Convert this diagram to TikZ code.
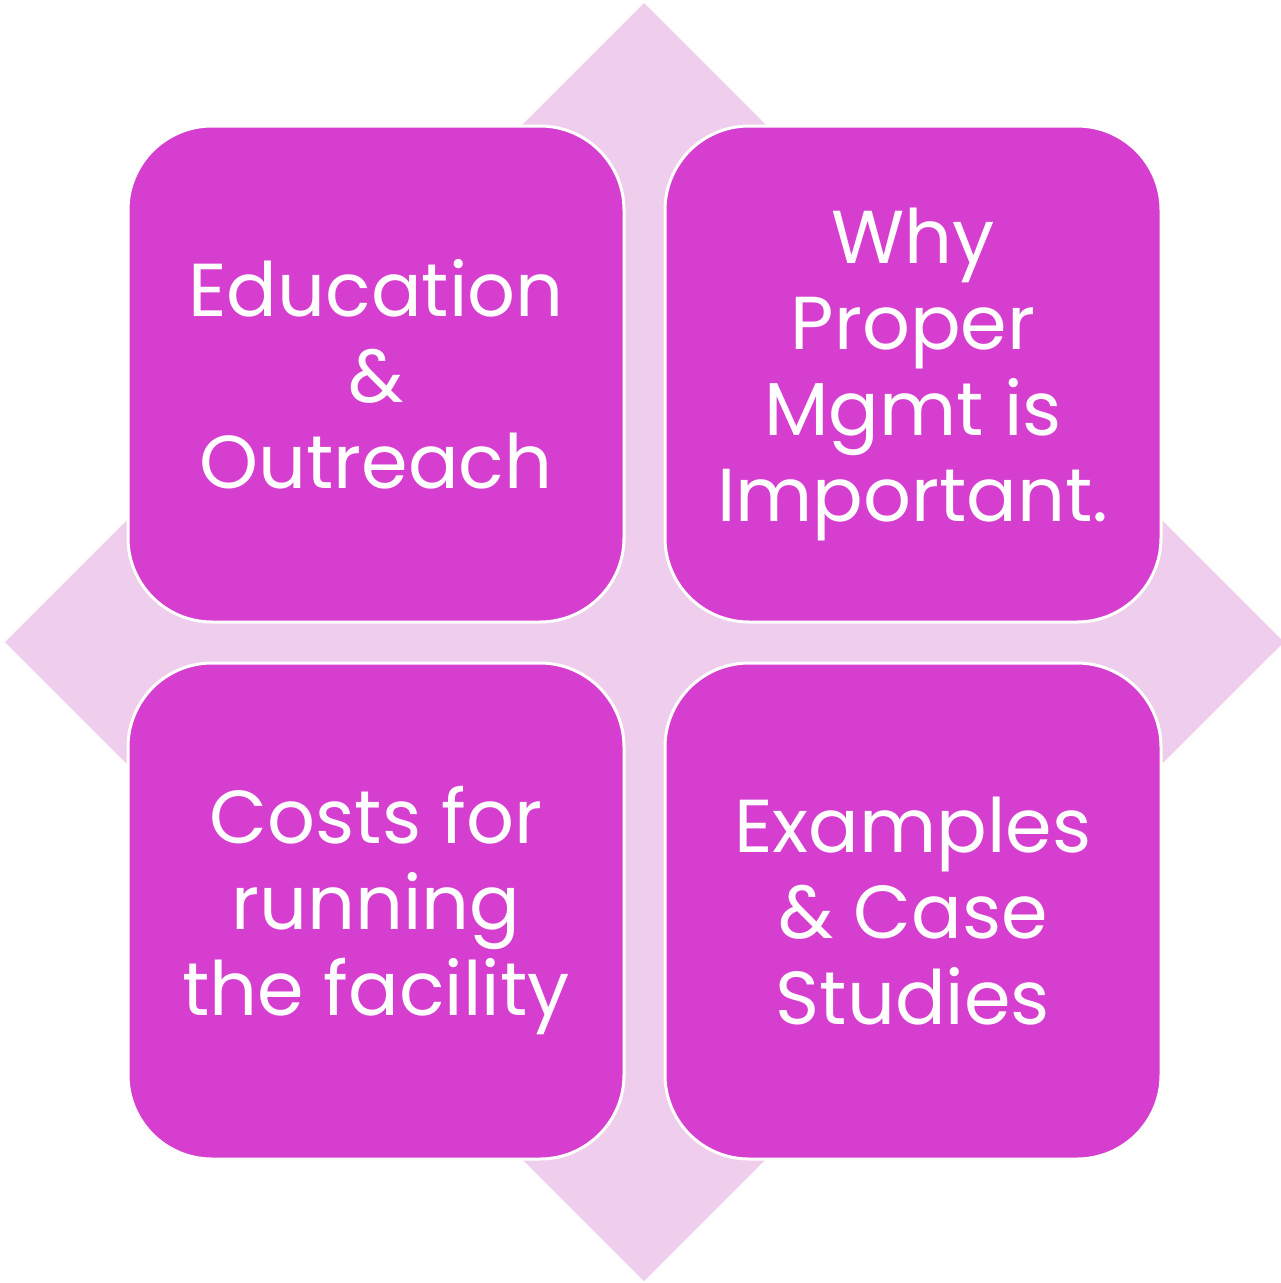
\documentclass[tikz,border=0pt]{standalone}
\usepackage{fontspec}
\setmainfont{Poppins}
\definecolor{boxfill}{HTML}{D53ECF}
\definecolor{diafill}{HTML}{EECEEC}
\begin{document}
\begin{tikzpicture}[x=1pt,y=-1pt,
  quad/.style={draw=white, line width=3pt, fill=boxfill, rounded corners=84pt,
    minimum width=496pt, minimum height=496pt, inner sep=0pt,
    text=white, align=center, font=\fontsize{75}{86}\selectfont}]
\useasboundingbox (0,0) rectangle (1281,1283);
\fill[diafill] (644,3) -- (1284,642) -- (644,1281) -- (5,642) -- cycle;
\node[quad] (tl) at (376,374) {Education\\\&\\Outreach};
\node[quad] (tr) at (913,374) {Why\\Proper\\Mgmt is\\Important.};
\node[quad] (bl) at (376,911) {Costs for\\running\\the facility};
\node[quad] (br) at (913,911) {Examples\\\& Case\\Studies};
\end{tikzpicture}
\end{document}
